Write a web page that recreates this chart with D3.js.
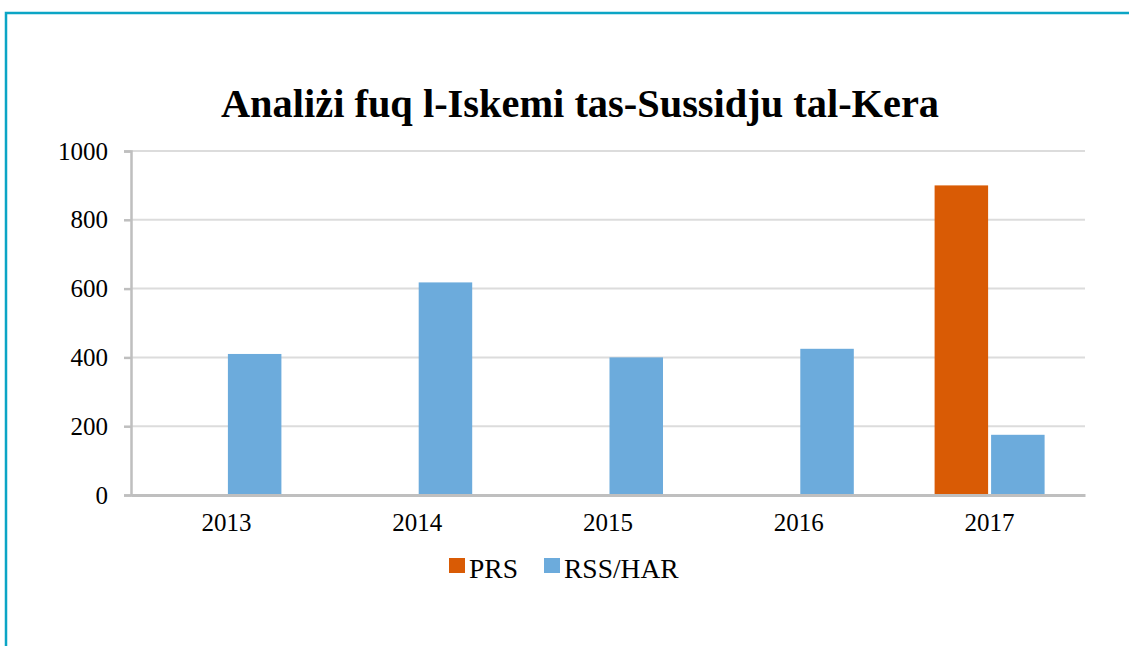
<!DOCTYPE html>
<html>
<head>
<meta charset="utf-8">
<script src="https://cdn.jsdelivr.net/npm/d3@7"></script>
<style>
  html, body { margin: 0; padding: 0; background: #fff; }
  svg { display: block; }
</style>
</head>
<body>
<svg id="chart" width="1129" height="646"></svg>
<script>
// Subsidy scheme figures per year
const years = ["2013", "2014", "2015", "2016", "2017"];
const seriesNames = ["PRS", "RSS/HAR"];
const prsValues = [0, 0, 0, 0, 900];
const rssValues = [410, 618, 400, 425, 175];
const yTicks = [0, 200, 400, 600, 800, 1000];
const titleText = "Analiżi fuq l-Iskemi tas-Sussidju tal-Kera";

const colors = { "PRS": "#d95b05", "RSS/HAR": "#6cabdc" };
const serif = "'Liberation Serif', 'Times New Roman', serif";

const svg = d3.select("#chart");
const W = 1129, H = 646;
const plot = { left: 131, right: 1085, top: 151, bottom: 495 };

// Outer frame
svg.append("rect")
  .attr("x", 6).attr("y", 13)
  .attr("width", W + 20).attr("height", H + 20)
  .attr("fill", "none")
  .attr("stroke", "#0ba5c5")
  .attr("stroke-width", 2.5);

// Title
svg.append("text")
  .attr("x", 580)
  .attr("y", 117)
  .attr("text-anchor", "middle")
  .attr("font-family", serif)
  .attr("font-weight", "bold")
  .attr("font-size", 40.4)
  .attr("fill", "#000")
  .text(titleText);

const rows = years.map((y, i) => ({ year: y, "PRS": prsValues[i], "RSS/HAR": rssValues[i] }));

const x0 = d3.scaleBand().domain(years).range([plot.left, plot.right]).paddingInner(0).paddingOuter(0);
const x1 = d3.scaleBand().domain(seriesNames).range([0, x0.bandwidth()])
  .paddingInner(0.053).paddingOuter(0.715);
const y = d3.scaleLinear().domain([0, 1000]).range([plot.bottom, plot.top]);

// Horizontal gridlines
svg.append("g")
  .selectAll("line")
  .data(yTicks.filter(t => t > 0))
  .join("line")
  .attr("x1", plot.left).attr("x2", plot.right)
  .attr("y1", d => y(d)).attr("y2", d => y(d))
  .attr("stroke", "#dcdcdc")
  .attr("stroke-width", 2);

// Bars
svg.append("g")
  .selectAll("g")
  .data(rows)
  .join("g")
  .attr("transform", d => `translate(${x0(d.year)},0)`)
  .selectAll("rect")
  .data(d => seriesNames.map(k => ({ key: k, value: d[k] })))
  .join("rect")
  .attr("x", d => x1(d.key))
  .attr("width", x1.bandwidth())
  .attr("y", d => y(d.value))
  .attr("height", d => y(0) - y(d.value))
  .attr("fill", d => colors[d.key]);

// Y axis
const yAxis = d3.axisLeft(y).tickValues(yTicks).tickSize(7).tickPadding(16).tickFormat(d3.format("d"));
const gy = svg.append("g").attr("transform", `translate(${plot.left},0)`).call(yAxis);
gy.select(".domain").attr("stroke", "#bfbfbf").attr("stroke-width", 2.5);
gy.selectAll(".tick line").attr("stroke", "#bfbfbf").attr("stroke-width", 2.5);
gy.selectAll(".tick text")
  .attr("font-family", serif)
  .attr("font-size", 25)
  .attr("fill", "#000");

// X axis
const xAxis = d3.axisBottom(x0).tickSize(0).tickPadding(18);
const gx = svg.append("g").attr("transform", `translate(0,${plot.bottom})`).call(xAxis);
gx.select(".domain").attr("stroke", "#bfbfbf").attr("stroke-width", 3);
gx.selectAll(".tick text")
  .attr("font-family", serif)
  .attr("font-size", 25)
  .attr("fill", "#000");

// Legend
const legendItems = [
  { key: "PRS", x: 449 },
  { key: "RSS/HAR", x: 544 }
];
const lg = svg.append("g");
legendItems.forEach(it => {
  lg.append("rect")
    .attr("x", it.x).attr("y", 558)
    .attr("width", 16).attr("height", 15)
    .attr("fill", colors[it.key]);
  lg.append("text")
    .attr("x", it.x + 20).attr("y", 578)
    .attr("font-family", serif)
    .attr("font-size", 27.5)
    .attr("fill", "#000")
    .text(it.key);
});
</script>
</body>
</html>
